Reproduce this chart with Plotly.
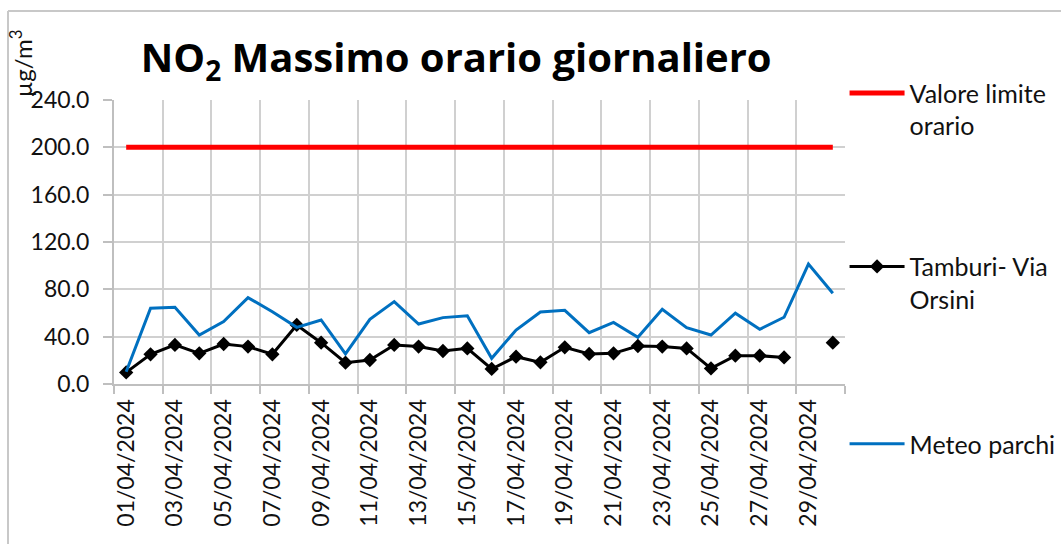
import pandas as pd
import plotly.graph_objects as go

# Days of April 2024
days = pd.date_range("2024-04-01", "2024-04-30", freq="D")
tick_days = days[::2]
tick_labels = [d.strftime("%d/%m/%Y") for d in tick_days]

# Hourly maximum NO2 per day (µg/m³)
meteo_parchi = [10.4, 64.0, 64.8, 41.4, 52.7, 73.0, 61.0, 47.9, 54.1, 25.5,
                54.7, 69.6, 50.7, 56.1, 57.7, 21.7, 45.6, 60.9, 62.3, 43.4,
                52.1, 39.5, 63.1, 47.6, 41.4, 59.8, 46.2, 56.4, 101.4, 76.7]
tamburi_orsini = [9.8, 25.1, 33.0, 25.9, 33.8, 31.6, 25.1, 49.9, 34.9, 18.0,
                  20.3, 33.0, 31.6, 27.9, 30.1, 12.7, 23.1, 18.3, 31.0, 25.4,
                  25.9, 32.1, 31.6, 30.1, 13.2, 23.9, 23.9, 22.5, None, 34.9]
valore_limite = [200.0] * 30

FONT = "Lato"
GRID = "#d0d0d0"

fig = go.Figure()

fig.add_trace(go.Scatter(
    x=days, y=valore_limite, mode="lines", name="Valore limite<br>orario",
    line=dict(color="#ff0000", width=5), legend="legend", showlegend=True))
fig.add_trace(go.Scatter(
    x=days, y=tamburi_orsini, mode="lines+markers", name="Tamburi- Via<br>Orsini",
    line=dict(color="#000000", width=3), connectgaps=False,
    marker=dict(symbol="diamond", size=11, color="#000000"),
    legend="legend2", showlegend=True))
fig.add_trace(go.Scatter(
    x=days, y=meteo_parchi, mode="lines", name="Meteo parchi",
    line=dict(color="#0070c0", width=3), legend="legend3", showlegend=True))

# Boundaries between pairs of days carry the grid and the tick marks
bounds = pd.date_range("2024-03-31 12:00", "2024-04-30 12:00", freq="2D")

fig.update_xaxes(
    type="date",
    range=["2024-03-31 12:00", "2024-04-30 12:00"],
    tickmode="array", tickvals=tick_days, ticktext=tick_labels,
    tickangle=-90, ticks="", showgrid=False,
    tickfont=dict(family=FONT, size=23, color="#111111"),
    ticklabelstandoff=4,
    showline=True, linecolor="#bfbfbf", linewidth=2,
    minor=dict(tickmode="array", tickvals=bounds, ticks="outside",
               ticklen=8, tickcolor="#bfbfbf", tickwidth=2,
               showgrid=True, gridcolor=GRID, gridwidth=2),
)
fig.update_yaxes(
    range=[0, 240], dtick=40, tick0=0, tickformat=".1f",
    tickfont=dict(family=FONT, size=23, color="#111111"),
    ticklabelstandoff=9,
    showgrid=True, gridcolor=GRID, gridwidth=2,
    showline=True, linecolor="#bfbfbf", linewidth=2,
    ticks="outside", ticklen=9, tickcolor="#bfbfbf", tickwidth=2,
    zeroline=False,
)

# Legends are placed against the page so they do not eat into the plot area
legend_common = dict(
    font=dict(family=FONT, size=25, color="#111111"),
    bgcolor="rgba(0,0,0,0)", borderwidth=0, xanchor="left", yanchor="top",
    valign="top", itemwidth=55, xref="container", yref="container",
)
fig.update_layout(
    width=1061, height=544,
    margin=dict(l=114, r=216, t=100, b=160, autoexpand=False),
    paper_bgcolor="white", plot_bgcolor="white",
    showlegend=True,
    title=dict(text="NO<sub>2</sub> Massimo orario giornaliero",
               font=dict(family="Open Sans", size=40, color="#000000", weight="bold"),
               x=0.43, xanchor="center", y=0.893, yanchor="middle"),
    legend=dict(x=0.796, y=0.871, **legend_common),
    legend2=dict(x=0.796, y=0.552, **legend_common),
    legend3=dict(x=0.796, y=0.226, **legend_common),
    annotations=[dict(
        text="µg/m<sup>3</sup>", textangle=-90, xref="paper", yref="paper",
        x=-0.127, y=1.13, xanchor="center", yanchor="middle", showarrow=False,
        font=dict(family=FONT, size=24, color="#111111"))],
    shapes=[
        dict(type="line", xref="paper", yref="paper",
             x0=-0.145, x1=1.4, y0=1.313, y1=1.313,
             line=dict(color="#c8c8c8", width=2)),
        dict(type="line", xref="paper", yref="paper",
             x0=-0.145, x1=-0.145, y0=1.313, y1=-0.6,
             line=dict(color="#c8c8c8", width=2)),
    ],
)

fig.write_html("out.html")
